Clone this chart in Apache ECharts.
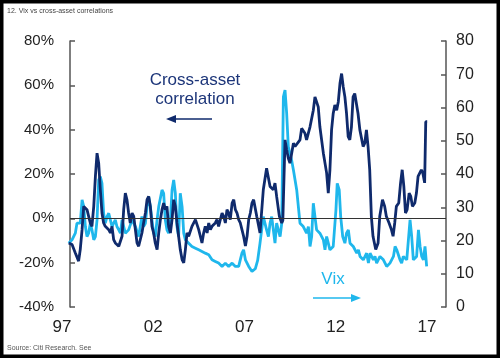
<!DOCTYPE html>
<html>
<head>
<meta charset="utf-8">
<script src="https://cdn.jsdelivr.net/npm/echarts@6/dist/echarts.min.js"></script>
<style>
html,body{margin:0;padding:0;background:#fff;}
#c{width:500px;height:358px;}
</style>
</head>
<body>
<div id="c"></div>
<script>
// ---- data ----
var xTickYears = [1997, 2002, 2007, 2012, 2017];
var xTickLabels = ['97', '02', '07', '12', '17'];

var corrYears = [1997.37,1997.55,1997.73,1997.91,1998.00,1998.10,1998.19,1998.37,1998.46,1998.55,1998.64,1998.74,1998.83,1998.92,1999.01,1999.10,1999.19,1999.28,1999.37,1999.56,1999.65,1999.74,1999.83,1999.92,2000.11,2000.29,2000.38,2000.47,2000.56,2000.65,2000.74,2000.84,2000.93,2001.02,2001.11,2001.20,2001.38,2001.47,2001.57,2001.66,2001.75,2001.84,2001.93,2002.02,2002.11,2002.21,2002.30,2002.39,2002.48,2002.57,2002.66,2002.75,2002.84,2002.94,2003.03,2003.12,2003.21,2003.30,2003.39,2003.48,2003.58,2003.67,2003.76,2003.85,2003.94,2004.03,2004.12,2004.31,2004.40,2004.49,2004.58,2004.67,2004.76,2004.85,2004.95,2005.04,2005.13,2005.22,2005.40,2005.49,2005.58,2005.77,2005.86,2005.95,2006.04,2006.13,2006.22,2006.32,2006.41,2006.50,2006.59,2006.68,2006.77,2006.86,2006.95,2007.05,2007.14,2007.23,2007.32,2007.41,2007.50,2007.59,2007.67,2007.85,2008.03,2008.21,2008.40,2008.58,2008.67,2008.76,2008.91,2009.04,2009.10,2009.22,2009.31,2009.40,2009.49,2009.68,2009.77,2009.86,2010.04,2010.13,2010.31,2010.40,2010.59,2010.68,2010.77,2010.86,2010.95,2011.04,2011.13,2011.32,2011.41,2011.50,2011.59,2011.68,2011.77,2011.86,2011.95,2012.05,2012.14,2012.23,2012.32,2012.41,2012.50,2012.59,2012.68,2012.77,2012.86,2012.95,2013.04,2013.13,2013.22,2013.32,2013.41,2013.50,2013.59,2013.68,2013.77,2013.86,2013.95,2014.04,2014.19,2014.32,2014.41,2014.56,2014.68,2014.77,2014.92,2015.05,2015.14,2015.23,2015.32,2015.45,2015.55,2015.64,2015.73,2015.82,2015.91,2016.02,2016.11,2016.20,2016.33,2016.42,2016.51,2016.60,2016.69,2016.77,2016.87,2016.93,2017.01];
var corrValues = [-11.1,-11.8,-15.6,-19.3,-14.1,-5.1,5.4,3.9,3.1,-2.1,-3.6,5.4,18.9,29.4,24.9,12.9,2.4,-2.1,-3.6,-5.1,-6.6,-3.6,-9.6,-11.1,-12.6,-8.1,3.9,11.4,8.4,2.4,-2.1,2.4,0.9,-5.1,-11.1,-12.6,-6.6,-2.1,2.4,8.4,9.9,5.4,-3.6,-6.6,-11.1,-14.1,-6.6,-0.6,3.9,6.9,3.9,5.4,-3.6,-6.6,-0.6,8.4,5.4,-2.1,-8.1,-14.1,-18.6,-20.1,-14.1,-6.6,-8.1,-8.1,-3.6,-0.6,-0.6,-5.1,-8.1,-11.1,-6.6,-3.6,-6.6,-2.1,-5.1,-3.6,-2.1,-0.6,-3.6,2.4,0.9,-2.1,3.9,2.4,-0.6,6.9,8.4,3.9,2.4,-0.6,-2.1,-5.1,-8.1,-12.5,-8.1,-0.6,2.4,6.9,8.4,8.4,0.9,-6.6,12.9,22.6,14.4,12.9,15.9,9.9,0.9,-2.1,-1.0,35.4,30.9,27.1,24.9,33.9,32.4,32.4,35.4,40.6,38.4,35.4,41.3,41.3,48.8,54.8,54.8,50.3,41.3,29.4,24.9,20.4,11.4,21.9,39.9,47.3,51.1,48.8,52.6,60.8,65.3,59.3,54.8,47.3,36.9,35.4,41.3,54.8,56.3,51.8,47.3,39.9,40.6,32.4,33.9,39.9,32.4,21.9,0.9,-8.1,-14.1,-11.1,0.9,8.4,5.4,0.9,-2.1,-5.1,-8.1,-2.1,5.4,6.9,15.9,21.9,14.4,2.4,3.9,11.4,9.9,5.4,6.9,11.4,18.9,20.4,21.9,20.5,16.0,43.6,43.6];

var vixYears = [1997.37,1997.55,1997.73,1997.82,1998.00,1998.10,1998.19,1998.28,1998.37,1998.46,1998.55,1998.64,1998.74,1998.83,1998.92,1999.01,1999.10,1999.19,1999.28,1999.37,1999.47,1999.56,1999.65,1999.74,1999.83,1999.92,2000.01,2000.11,2000.20,2000.29,2000.38,2000.47,2000.65,2000.84,2001.02,2001.20,2001.29,2001.38,2001.47,2001.57,2001.66,2001.75,2001.84,2001.93,2002.02,2002.11,2002.21,2002.30,2002.48,2002.57,2002.66,2002.75,2002.84,2002.94,2003.03,2003.12,2003.21,2003.30,2003.39,2003.48,2003.58,2003.67,2003.76,2003.94,2004.12,2004.31,2004.49,2004.67,2004.85,2005.04,2005.22,2005.40,2005.58,2005.77,2005.95,2006.13,2006.32,2006.50,2006.68,2006.86,2006.95,2007.05,2007.23,2007.41,2007.59,2007.72,2007.85,2008.03,2008.21,2008.31,2008.40,2008.49,2008.58,2008.67,2008.76,2008.85,2008.95,2009.04,2009.13,2009.22,2009.31,2009.40,2009.49,2009.58,2009.68,2009.86,2010.04,2010.22,2010.40,2010.50,2010.59,2010.68,2010.77,2010.86,2010.95,2011.13,2011.32,2011.41,2011.50,2011.59,2011.68,2011.86,2012.01,2012.08,2012.19,2012.27,2012.38,2012.50,2012.59,2012.69,2012.78,2012.96,2013.15,2013.24,2013.33,2013.51,2013.69,2013.79,2013.88,2014.06,2014.15,2014.24,2014.42,2014.61,2014.79,2014.97,2015.16,2015.25,2015.34,2015.52,2015.61,2015.70,2015.89,2016.07,2016.16,2016.25,2016.34,2016.43,2016.53,2016.62,2016.71,2016.80,2016.89,2016.98];
var vixValues = [19.2,20.2,22.2,25.2,25.2,32.2,30.2,24.2,21.2,22.2,25.2,23.2,20.2,21.2,26.2,38.2,39.2,37.2,28.2,25.2,27.2,28.2,26.2,24.2,25.2,26.2,24.2,23.2,22.2,26.2,24.2,22.2,23.2,26.2,24.2,21.2,24.2,27.2,24.2,25.2,30.2,33.2,30.2,26.2,22.2,21.2,26.2,30.2,35.2,34.2,26.2,23.2,22.2,26.2,35.2,38.2,34.2,24.2,21.2,34.2,30.2,22.2,20.2,19.2,18.2,17.7,17.2,16.7,16.2,15.7,14.2,13.7,13.2,12.2,13.2,12.2,13.2,12.2,12.2,16.2,17.2,14.2,12.2,10.7,11.5,14.0,19.2,27.2,23.2,21.2,25.2,27.2,23.2,19.2,25.2,23.2,21.2,25.2,63.2,65.2,58.2,48.2,46.2,44.2,41.2,35.2,25.2,24.2,22.2,24.2,18.2,21.2,31.2,27.2,23.2,22.2,20.2,17.2,21.2,19.2,17.2,18.2,29.2,37.2,35.2,27.2,21.2,19.2,22.2,23.2,19.2,18.2,16.2,17.2,15.2,14.2,16.2,13.2,16.2,14.2,15.2,13.2,15.2,14.2,12.2,13.2,15.2,18.2,17.2,14.2,13.2,15.2,14.2,26.2,21.2,14.2,14.2,15.2,23.2,18.2,15.2,14.2,18.2,12.2];

var leftAxisMin = -40, leftAxisMax = 80, leftAxisStep = 20;
var rightAxisMin = 0, rightAxisMax = 80, rightAxisStep = 10;

// ---- chart ----
var navy = '#0f2a6c';
var sky = '#1fb7ec';
var axisCol = '#555';
var font = '"Liberation Sans", Arial, sans-serif';

function pairs(xs, ys) { return xs.map(function (x, i) { return [x, ys[i]]; }); }

var xMin = 1997, xMax = 2018.04, axisStartYear = 1997.44;

var chart = echarts.init(document.getElementById('c'), null, {renderer: 'canvas'});
chart.setOption({
  animation: false,
  backgroundColor: '#fff',
  textStyle: {fontFamily: font},
  grid: {left: 62, right: 54, top: 41, bottom: 51, containLabel: false},
  xAxis: {
    type: 'value', min: xMin, max: xMax,
    axisLine: {show: false}, axisTick: {show: false}, splitLine: {show: false},
    axisLabel: {
      customValues: xTickYears,
      formatter: function (v) { var i = xTickYears.indexOf(Math.round(v)); return i >= 0 ? xTickLabels[i] : ''; },
      color: '#222', fontSize: 17, margin: 12, fontFamily: font
    }
  },
  yAxis: [{
    type: 'value', position: 'left', offset: -8,
    min: leftAxisMin, max: leftAxisMax, interval: leftAxisStep,
    axisLine: {show: true, lineStyle: {color: axisCol, width: 1.5}},
    axisTick: {show: true, inside: true, length: 5, lineStyle: {color: axisCol, width: 1.5}},
    splitLine: {show: false},
    axisLabel: {formatter: '{value}%', color: '#222', fontSize: 15, margin: 16, fontFamily: font}
  }, {
    type: 'value', position: 'right',
    min: rightAxisMin, max: rightAxisMax, interval: rightAxisStep,
    axisLine: {show: true, lineStyle: {color: axisCol, width: 1.5}},
    axisTick: {show: true, inside: true, length: 5, lineStyle: {color: axisCol, width: 1.5}},
    splitLine: {show: false},
    axisLabel: {color: '#222', fontSize: 16, margin: 10, fontFamily: font}
  }],
  series: [{
    name: 'Vix', type: 'line', yAxisIndex: 1, showSymbol: false,
    data: pairs(vixYears, vixValues),
    lineStyle: {color: sky, width: 2.8}, itemStyle: {color: sky}, z: 2
  }, {
    name: 'Cross-asset correlation', type: 'line', yAxisIndex: 0, showSymbol: false,
    data: pairs(corrYears, corrValues),
    lineStyle: {color: navy, width: 2.8}, itemStyle: {color: navy}, z: 3,
    markLine: {
      silent: true, symbol: 'none', label: {show: false},
      lineStyle: {color: '#333', width: 1, type: 'solid'},
      data: [[{coord: [axisStartYear, 0]}, {coord: [xMax, 0]}]]
    }
  }],
  graphic: [
    {type: 'rect', shape: {x: 0, y: 0, width: 500, height: 358}, style: {fill: 'none', stroke: '#000', lineWidth: 7}, z: 100},
    {type: 'text', x: 7, y: 8, style: {text: '12. Vix vs cross-asset correlations', fill: '#444', font: '7px ' + font}},
    {type: 'text', x: 7, y: 345, style: {text: 'Source: Citi Research. See', fill: '#555', font: '7px ' + font}},
    {type: 'text', x: 195, y: 80, style: {text: 'Cross-asset', fill: '#1c3579', font: '17px ' + font, align: 'center', verticalAlign: 'middle'}},
    {type: 'text', x: 195, y: 99, style: {text: 'correlation', fill: '#1c3579', font: '17px ' + font, align: 'center', verticalAlign: 'middle'}},
    {type: 'line', shape: {x1: 212, y1: 119, x2: 172, y2: 119}, style: {stroke: navy, lineWidth: 1.5}},
    {type: 'polygon', shape: {points: [[166, 119], [176, 115], [176, 123]]}, style: {fill: navy}},
    {type: 'text', x: 333, y: 279, style: {text: 'Vix', fill: sky, font: '17px ' + font, align: 'center', verticalAlign: 'middle'}},
    {type: 'line', shape: {x1: 313, y1: 298, x2: 354, y2: 298}, style: {stroke: sky, lineWidth: 1.5}},
    {type: 'polygon', shape: {points: [[361, 298], [351, 294], [351, 302]]}, style: {fill: sky}}
  ]
});
</script>
</body>
</html>
